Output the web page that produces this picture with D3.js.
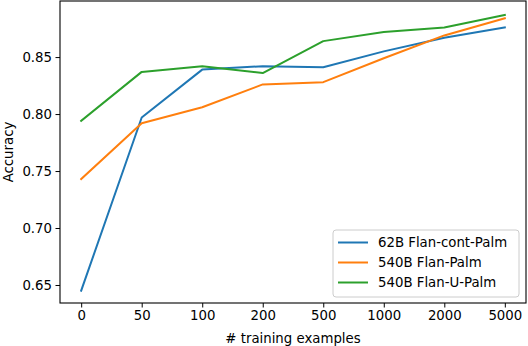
<!DOCTYPE html>
<html>
<head>
<meta charset="utf-8">
<script src="https://cdn.jsdelivr.net/npm/d3@7"></script>
<style>
  body { margin: 0; background: #fff; }
  text { font-family: "DejaVu Sans", sans-serif; }
</style>
</head>
<body>
<svg width="528" height="346"></svg>
<script>
const categories = ["0", "50", "100", "200", "500", "1000", "2000", "5000"]
const contPalm62 = [0.645, 0.797, 0.839, 0.842, 0.841, 0.855, 0.867, 0.876]
const flanPalm540 = [0.743, 0.792, 0.806, 0.826, 0.828, 0.849, 0.869, 0.884]
const flanUPalm540 = [0.794, 0.837, 0.842, 0.836, 0.864, 0.872, 0.876, 0.887]
const yTicks = [0.65, 0.70, 0.75, 0.80, 0.85]

const series = [
  {name: "62B Flan-cont-Palm", values: contPalm62, color: "#1f77b4"},
  {name: "540B Flan-Palm", values: flanPalm540, color: "#ff7f0e"},
  {name: "540B Flan-U-Palm", values: flanUPalm540, color: "#2ca02c"}
]

const FONT = 13.3

var svg = d3.select("svg"),
    margin = {top: 1, right: 2, bottom: 43, left: 60},
    width = +svg.attr("width") - margin.left - margin.right,
    height = +svg.attr("height") - margin.top - margin.bottom,
    g = svg.append("g").attr("transform", "translate(" + margin.left + "," + margin.top + ")");

// matplotlib-like 5% margins on the categorical axis
var x = d3.scalePoint()
    .domain(categories)
    .range([0, width])
    .padding(0.35);

var y = d3.scaleLinear()
    .domain([0.6342, 0.8992])
    .range([height, 0]);

var line = d3.line()
    .x(function(d, i) { return x(categories[i]); })
    .y(function(d) { return y(d); });

g.selectAll(".series")
  .data(series)
  .enter().append("path")
    .attr("class", "series")
    .attr("fill", "none")
    .attr("stroke", function(d) { return d.color; })
    .attr("stroke-width", 2)
    .attr("stroke-linejoin", "round")
    .attr("stroke-linecap", "square")
    .attr("d", function(d) { return line(d.values); });

var xAxis = g.append("g")
    .attr("transform", "translate(0," + height + ")")
    .call(d3.axisBottom(x).tickSize(4.5).tickPadding(3.5));

var yAxis = g.append("g")
    .call(d3.axisLeft(y).tickValues(yTicks).tickFormat(d3.format(".2f")).tickSize(4.5).tickPadding(3.5));

[xAxis, yAxis].forEach(function(a) {
  a.select(".domain").remove();
  a.selectAll("line").attr("stroke", "#000").attr("stroke-width", 1);
  a.selectAll("text").attr("font-size", FONT).attr("fill", "#000").attr("font-family", "DejaVu Sans");
});

// frame
g.append("rect")
    .attr("width", width)
    .attr("height", height)
    .attr("fill", "none")
    .attr("stroke", "#000")
    .attr("stroke-width", 1.1);

g.append("text")
    .attr("x", width / 2)
    .attr("y", height + 39.5)
    .attr("text-anchor", "middle")
    .attr("font-size", FONT)
    .text("# training examples");

svg.append("text")
    .attr("transform", "translate(12.5," + (margin.top + height / 2) + ") rotate(-90)")
    .attr("text-anchor", "middle")
    .attr("font-size", FONT)
    .text("Accuracy");

// legend
var legend = g.append("g")
    .attr("transform", "translate(" + (width - 193) + "," + (height - 73) + ")");

legend.append("rect")
    .attr("width", 186)
    .attr("height", 67)
    .attr("rx", 3)
    .attr("fill", "#fff")
    .attr("fill-opacity", 0.8)
    .attr("stroke", "#ccc");

var item = legend.selectAll(".item")
  .data(series)
  .enter().append("g")
    .attr("class", "item")
    .attr("transform", function(d, i) { return "translate(0," + (12.5 + i * 20) + ")"; });

item.append("line")
    .attr("x1", 5)
    .attr("x2", 35)
    .attr("stroke", function(d) { return d.color; })
    .attr("stroke-width", 2);

item.append("text")
    .attr("x", 45)
    .attr("dy", "0.35em")
    .attr("font-size", FONT)
    .text(function(d) { return d.name; });
</script>
</body>
</html>
